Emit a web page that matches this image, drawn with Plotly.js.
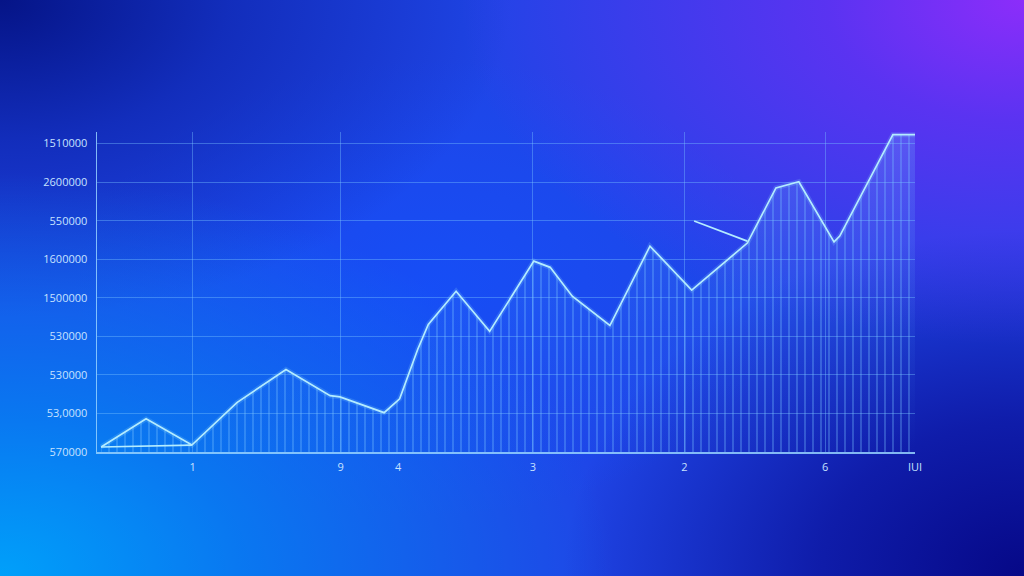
<!DOCTYPE html>
<html>
<head>
<meta charset="utf-8">
<script src="https://cdn.plot.ly/plotly-3.0.1.min.js"></script>
<style>
  html, body { margin: 0; padding: 0; width: 1024px; height: 576px; overflow: hidden; }
  body {
    background:
      radial-gradient(ellipse 55% 60% at 100% 0%, rgba(140,45,250,1) 0%, rgba(110,45,245,0.75) 35%, rgba(90,45,240,0) 100%),
      radial-gradient(ellipse 60% 70% at 0% 100%, rgba(0,160,250,1) 0%, rgba(0,140,245,0.7) 40%, rgba(0,120,240,0) 100%),
      radial-gradient(ellipse 45% 60% at 100% 100%, rgba(6,8,135,1) 0%, rgba(10,15,150,0.75) 45%, rgba(10,20,160,0) 100%),
      radial-gradient(ellipse 50% 55% at 0% 0%, rgba(5,20,135,1) 0%, rgba(10,30,160,0.6) 45%, rgba(10,30,170,0) 100%),
      radial-gradient(ellipse 35% 40% at 42% 50%, rgba(20,80,250,0.8) 0%, rgba(20,80,250,0) 100%),
      #1f45e6;
  }
  #chart { width: 1024px; height: 576px; }
</style>
</head>
<body>
<div id="chart"></div>
<script>
// Main series (x in arbitrary units 0-100, y in gridline units 0-8)
const lineX = [0.5, 6.0, 11.6, 17.1, 23.1, 28.5, 29.7, 35.1, 37.0, 39.2, 40.5, 43.9, 48.0, 53.4, 55.4, 58.1, 62.7, 67.6, 72.7, 79.5, 83.0, 85.8, 90.1, 90.8, 97.3, 100.0];
const lineY = [0.13, 0.86, 0.18, 1.28, 2.14, 1.46, 1.43, 1.02, 1.38, 2.66, 3.31, 4.17, 3.13, 4.95, 4.79, 4.04, 3.28, 5.34, 4.20, 5.42, 6.85, 7.01, 5.45, 5.60, 8.23, 8.23];
// Closing base of the first triangle
const baseX = [0.5, 11.6];
const baseY = [0.13, 0.18];
// Loose segment
const segX = [73.0, 79.5];
const segY = [5.99, 5.47];

// Y tick labels (bottom to top)
const yTickVals = [0, 1, 2, 3, 4, 5, 6, 7, 8];
const yTickText = ["570000", "53,0000", "530000", "530000", "1500000", "1600000", "550000", "2600000", "1510000"];
// X tick labels
const xTickVals = [11.7, 29.8, 36.8, 53.3, 71.8, 89.0, 100.0];
const xTickText = ["1", "9", "4", "3", "2", "6", "IUI"];
// X gridline positions
const xGridVals = [11.7, 29.8, 53.3, 71.8, 89.0];

const lineCol = '#b4ecff';
const gridCol = 'rgba(120,195,255,0.40)';
const axisCol = 'rgba(150,210,255,0.85)';
const tickFont = {family: 'Open Sans, DejaVu Sans, sans-serif', size: 11, color: '#c7e2ff'};

const traces = [
  { // gradient glow under the line
    x: lineX, y: lineY, type: 'scatter', mode: 'none', fill: 'tozeroy',
    fillgradient: {type: 'vertical', start: 0, stop: 8.2,
      colorscale: [[0, 'rgba(90,170,255,0.0)'], [0.4, 'rgba(90,170,255,0.08)'], [1, 'rgba(120,200,255,0.22)']]},
    hoverinfo: 'skip', showlegend: false
  },
  { // vertical stripes
    x: lineX, y: lineY, type: 'scatter', mode: 'none', fill: 'tozeroy',
    fillcolor: 'rgba(0,0,0,0)',
    fillpattern: {shape: '|', size: 8, solidity: 0.2, fgcolor: 'rgba(120,195,255,0.38)', bgcolor: 'rgba(0,0,0,0)'},
    hoverinfo: 'skip', showlegend: false
  },
  { // glow
    x: lineX, y: lineY, type: 'scatter', mode: 'lines',
    line: {color: 'rgba(150,230,255,0.18)', width: 5}, hoverinfo: 'skip', showlegend: false
  },
  {
    x: lineX, y: lineY, type: 'scatter', mode: 'lines',
    line: {color: lineCol, width: 1.7}, showlegend: false
  },
  {
    x: baseX, y: baseY, type: 'scatter', mode: 'lines',
    line: {color: lineCol, width: 1.7}, showlegend: false
  },
  {
    x: segX, y: segY, type: 'scatter', mode: 'lines', xaxis: 'x2',
    line: {color: lineCol, width: 1.7}, showlegend: false
  }
];

const layout = {
  width: 1024, height: 576,
  margin: {l: 97, r: 109, t: 132, b: 124},
  paper_bgcolor: 'rgba(0,0,0,0)',
  plot_bgcolor: 'rgba(0,0,0,0)',
  showlegend: false,
  xaxis: {
    range: [0, 100], tickmode: 'array', tickvals: xTickVals, ticktext: xTickText,
    showgrid: false, zeroline: false, showline: true, linecolor: axisCol, linewidth: 1.5,
    ticks: '', tickfont: tickFont, ticklabelstandoff: 4
  },
  xaxis2: {
    range: [0, 100], overlaying: 'x', matches: 'x', tickmode: 'array', tickvals: xGridVals,
    showticklabels: false, showgrid: true, gridcolor: gridCol, gridwidth: 1,
    zeroline: false, showline: false, ticks: ''
  },
  yaxis: {
    range: [0, 8.3], tickmode: 'array', tickvals: yTickVals, ticktext: yTickText,
    showgrid: true, gridcolor: gridCol, gridwidth: 1, zeroline: false,
    showline: true, linecolor: axisCol, linewidth: 1.5,
    ticks: '', tickfont: tickFont, ticklabelstandoff: 6
  }
};

Plotly.newPlot('chart', traces, layout, {displayModeBar: false, staticPlot: true});
</script>
</body>
</html>
